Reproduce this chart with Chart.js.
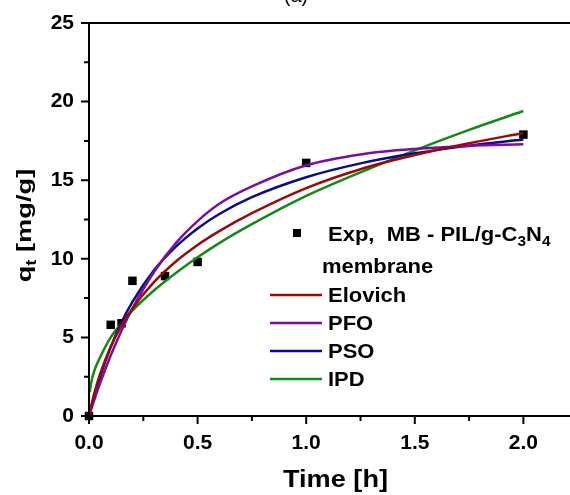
<!DOCTYPE html>
<html>
<head>
<meta charset="utf-8">
<script src="https://cdn.jsdelivr.net/npm/chart.js@4.4.1/dist/chart.umd.min.js"></script>
<style>
  html, body { margin: 0; padding: 0; background: #fff; }
  #wrap { position: relative; width: 570px; height: 495px; overflow: hidden; background: #fff; }
  #chart { position: absolute; left: 0; top: -20px; }
</style>
</head>
<body>
<div id="wrap"><canvas id="chart" width="650" height="520"></canvas></div>
<script>
// experimental points
const timeExp = [0, 0.1, 0.15, 0.2, 0.35, 0.5, 1.0, 2.0];
const qExp = [0, 5.8, 5.9, 8.6, 8.9, 9.8, 16.1, 17.9];

// fitted curves
const timeFit = [0, 0.01, 0.025, 0.05, 0.1, 0.15, 0.2, 0.3, 0.4, 0.5, 0.6, 0.75, 1.0, 1.25, 1.5, 1.75, 2.0];
const qElovich = [0, 0.63, 1.47, 2.63, 4.41, 5.76, 6.84, 8.53, 9.83, 10.88, 11.76, 12.9, 14.5, 15.7, 16.6, 17.35, 18.0];
const qPFO = [0, 0.43, 1.05, 2.04, 3.85, 5.44, 6.85, 9.18, 11.0, 12.4, 13.5, 14.6, 15.95, 16.64, 16.99, 17.18, 17.28];
const qPSO = [0, 0.54, 1.3, 2.45, 4.39, 5.96, 7.26, 9.28, 10.77, 11.93, 12.85, 13.92, 15.19, 16.07, 16.71, 17.2, 17.59];
const timeIPD = [0.003, 0.01, 0.025, 0.05, 0.1, 0.15, 0.2, 0.3, 0.4, 0.5, 0.6, 0.75, 1.0, 1.25, 1.5, 1.75, 2.0];
const qIPD = [1.5, 2.1, 2.9, 3.7, 5.0, 5.9, 6.7, 8.0, 9.1, 10.1, 11.0, 12.2, 14.0, 15.5, 16.9, 18.2, 19.4];

const seriesNames = ['Elovich', 'PFO', 'PSO', 'IPD'];
const seriesColors = ['#9a0a0a', '#7a0f9e', '#0a0a8c', '#138a13'];

const xTicksMinor = 0.25;
const yTicksMinor = 2.5;

function pts(xs, ys) {
  return xs.map((x, i) => ({ x: x, y: ys[i] }));
}

function lineSet(label, xs, ys, color) {
  return {
    label: label,
    data: pts(xs, ys),
    borderColor: color,
    backgroundColor: color,
    borderWidth: 2.5,
    pointRadius: 0,
    cubicInterpolationMode: 'monotone',
    clip: false
  };
}

// draw text stretched along its direction
function stretchText(ctx, str, x, y, font, sx) {
  ctx.save();
  ctx.translate(x, y);
  ctx.scale(sx, 1);
  ctx.font = font;
  ctx.fillText(str, 0, 0);
  const w = ctx.measureText(str).width * sx;
  ctx.restore();
  return w;
}

const decorations = {
  id: 'decorations',
  afterDraw(chart) {
    const ctx = chart.ctx;
    const xs = chart.scales.x, ys = chart.scales.y;
    const a = chart.chartArea;
    ctx.save();
    ctx.strokeStyle = '#000';
    ctx.fillStyle = '#000';
    ctx.lineWidth = 2;

    // frame
    ctx.beginPath();
    ctx.moveTo(a.left, a.top); ctx.lineTo(a.right, a.top);
    ctx.moveTo(a.left, a.top - 1); ctx.lineTo(a.left, a.bottom + 1);
    ctx.moveTo(a.left - 1, a.bottom); ctx.lineTo(a.right, a.bottom);
    ctx.stroke();

    // ticks, major and minor, outward
    ctx.beginPath();
    for (let v = 0; v <= xs.max + 1e-9; v += xTicksMinor) {
      const px = xs.getPixelForValue(v);
      const major = Math.abs(v / 0.5 - Math.round(v / 0.5)) < 1e-6;
      ctx.moveTo(px, a.bottom); ctx.lineTo(px, a.bottom + (major ? 8 : 5));
    }
    for (let v = 0; v <= ys.max + 1e-9; v += yTicksMinor) {
      const py = ys.getPixelForValue(v);
      const major = Math.abs(v / 5 - Math.round(v / 5)) < 1e-6;
      ctx.moveTo(a.left, py); ctx.lineTo(a.left - (major ? 8 : 5), py);
    }
    ctx.stroke();

    // panel label, mostly cut off at the top
    ctx.font = '20px "Liberation Sans", Arial, sans-serif';
    ctx.textAlign = 'center';
    ctx.fillText('(a)', 296, 22);
    ctx.textAlign = 'left';

    // x axis title
    ctx.font = 'bold 23px "Liberation Sans", Arial, sans-serif';
    const tw = ctx.measureText('Time [h]').width;
    stretchText(ctx, 'Time [h]', 335.5 - 105 / 2, 507, 'bold 23px "Liberation Sans", Arial, sans-serif', 105 / tw);

    // y axis title with subscript
    ctx.save();
    ctx.translate(31, 245.5);
    ctx.rotate(-Math.PI / 2);
    const big = 'bold 21px "Liberation Sans", Arial, sans-serif';
    const small = 'bold 14px "Liberation Sans", Arial, sans-serif';
    const sy = 1.3;
    ctx.font = big;
    const w1 = ctx.measureText('q').width * sy;
    const w3 = ctx.measureText(' [mg/g]').width * sy;
    ctx.font = small;
    const w2 = ctx.measureText('t').width * sy;
    let cx = -(w1 + w2 + w3) / 2;
    cx += stretchText(ctx, 'q', cx, 0, big, sy);
    cx += stretchText(ctx, 't', cx, 5, small, sy);
    stretchText(ctx, ' [mg/g]', cx, 0, big, sy);
    ctx.restore();

    // legend
    const lf = 'bold 20px "Liberation Sans", Arial, sans-serif';
    const sf = 'bold 14px "Liberation Sans", Arial, sans-serif';
    const lsx = 1.1;
    ctx.fillRect(293, 249, 8, 8);
    let lx = 328;
    lx += stretchText(ctx, 'Exp,  MB - PIL/g-C', lx, 261, lf, lsx);
    lx += stretchText(ctx, '3', lx, 266, sf, lsx);
    lx += stretchText(ctx, 'N', lx, 261, lf, lsx);
    stretchText(ctx, '4', lx, 266, sf, lsx);
    stretchText(ctx, 'membrane', 322, 293, lf, lsx);

    seriesNames.forEach((name, i) => {
      const yy = 315 + i * 28;
      ctx.strokeStyle = seriesColors[i];
      ctx.lineWidth = 2.5;
      ctx.beginPath();
      ctx.moveTo(270, yy); ctx.lineTo(322, yy);
      ctx.stroke();
      stretchText(ctx, name, 328, yy + 6.5, lf, lsx);
    });
    ctx.restore();
  }
};

const tickFont = { family: '"Liberation Sans", Arial, sans-serif', size: 21, weight: 'bold' };

new Chart(document.getElementById('chart').getContext('2d'), {
  type: 'line',
  data: {
    datasets: [
      lineSet(seriesNames[0], timeFit, qElovich, seriesColors[0]),
      lineSet(seriesNames[1], timeFit, qPFO, seriesColors[1]),
      lineSet(seriesNames[2], timeFit, qPSO, seriesColors[2]),
      lineSet(seriesNames[3], timeIPD, qIPD, seriesColors[3]),
      {
        label: 'Exp,  MB - PIL/g-C3N4 membrane',
        data: pts(timeExp, qExp),
        showLine: false,
        pointStyle: 'rect',
        pointRadius: 6,
        pointBorderWidth: 0,
        backgroundColor: '#000',
        borderColor: '#000',
        clip: false
      }
    ]
  },
  options: {
    responsive: false,
    animation: false,
    layout: { padding: { top: 43, right: 18, left: 0, bottom: 0 } },
    plugins: {
      legend: { display: false },
      tooltip: { enabled: false }
    },
    scales: {
      x: {
        type: 'linear',
        min: 0,
        max: 2.5,
        ticks: {
          stepSize: 0.5,
          color: '#000',
          font: tickFont,
          padding: 15,
          maxRotation: 0,
          callback: v => v.toFixed(1)
        },
        grid: { display: false, drawTicks: false },
        border: { display: false },
        afterFit: s => { s.height = 84; s.paddingLeft = 0; s.paddingRight = 0; }
      },
      y: {
        min: 0,
        max: 25,
        ticks: {
          stepSize: 5,
          color: '#000',
          font: tickFont,
          padding: 15
        },
        grid: { display: false, drawTicks: false },
        border: { display: false },
        afterFit: s => { s.width = 89; s.paddingTop = 0; s.paddingBottom = 0; }
      }
    }
  },
  plugins: [decorations]
});
</script>
</body>
</html>
